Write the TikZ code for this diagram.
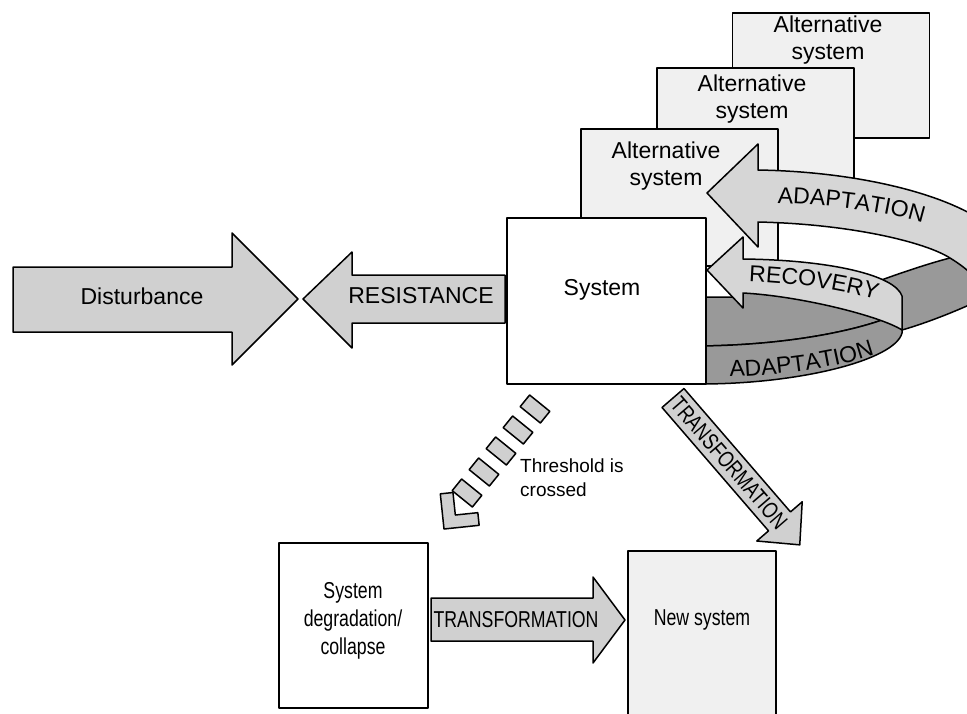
\documentclass[tikz,border=0pt]{standalone}
\usepackage{fontspec}
\setmainfont{Liberation Sans}
\usetikzlibrary{decorations.text}

\definecolor{arrowgray}{RGB}{208,208,208}
\definecolor{bandgray}{RGB}{214,214,214}
\definecolor{darkgray}{RGB}{153,153,153}
\definecolor{boxgray}{RGB}{240,240,240}
\newcommand{\lblfont}{\fontsize{23}{27}\selectfont}
\newcommand{\narrowfont}{\fontsize{23}{28}\selectfont}
\newcommand{\notefont}{\fontsize{19}{24}\selectfont}

\begin{document}
\begin{tikzpicture}[x=1pt, y=-1pt, line join=round,
    box/.style={draw, line width=1.8pt, fill=white, inner sep=0pt},
    altbox/.style={box, fill=boxgray, minimum width=197pt},
    blockarrow/.style={draw, line width=1.5pt, fill=arrowgray},
    band/.style={draw, line width=1.5pt, fill=bandgray},
    darkband/.style={draw, line width=1.5pt, fill=darkgray},
    dashbox/.style={draw, line width=1.5pt, fill=arrowgray, minimum width=26pt, minimum height=15pt, inner sep=0pt},
    lbl/.style={font=\lblfont, align=center, inner sep=0pt},
    narrowlbl/.style={font=\narrowfont, align=center, inner sep=0pt, xscale=0.77}]
    \useasboundingbox (0,0) rectangle (967,713);
    \clip (0,0) rectangle (967,713);

    % alternative systems, back to front
    \node[altbox, minimum height=125pt] at (831,75.5) (alt3) {};
    \node[altbox, minimum height=132pt] at (755.5,134) (alt2) {};
    \node[altbox, minimum height=137pt] at (679.5,197.5) (alt1) {};
    \node[lbl] at (828,40) (alt3txt) {Alternative\\system};
    \node[lbl] at (752,99) (alt2txt) {Alternative\\system};
    \node[lbl] at (666,166) (alt1txt) {Alternative\\system};

    % outer loop (back part)
    \draw[darkband] (850,292) .. controls (890,276) and (930,263) .. (950,258) -- (1010,240) -- (1000,290)
        .. controls (970,306) and (930,322) .. (902,330) -- cycle;
    % inner loop
    \draw[darkband] (700,297) -- (738,297) -- (745,288) .. controls (830,292) and (880,305) .. (902,325)
        -- (895,315) .. controls (860,330) and (790,345) .. (700,346) -- cycle;
    \draw[darkband] (700,346) .. controls (790,345) and (860,330) .. (895,315) -- (902,330) -- (902,333)
        .. controls (895,360) and (800,384) .. (700,384) -- cycle;
    \draw[band] (707,270) -- (743,237) -- (743,259) .. controls (830,260) and (895,275) .. (902,296) -- (902,330)
        .. controls (880,316) and (800,296) .. (743,293) -- (743,308) -- cycle;
    \draw[band] (707,193) -- (758,144) -- (758,170) .. controls (880,172) and (990,205) .. (1010,250) -- (1000,300)
        -- (990,295) .. controls (980,280) and (965,267) .. (950,258) .. controls (925,242) and (850,224) .. (758,222)
        -- (758,247) -- cycle;

    \path[decorate, decoration={text along path, text={|\lblfont|ADAPTATION}, text align=center}]
        (768,203) .. controls (830,204) and (890,212) .. (932,226);
    \path[decorate, decoration={text along path, text={|\lblfont|RECOVERY}, text align=center}]
        (743,281) .. controls (800,283) and (850,291) .. (882,302);
    \path[decorate, decoration={text along path, text={|\lblfont|ADAPTATION}, text align=center}]
        (722,377) .. controls (780,376) and (840,368) .. (882,352);

    % system
    \node[box, minimum width=199pt, minimum height=166pt] at (606.5,301) (sys) {};
    \node[lbl] at (602,290) (systxt) {System};

    % disturbance and resistance
    \draw[blockarrow] (13,267) -- (232,267) -- (232,233) -- (298,299) -- (232,365) -- (232,332) -- (13,332) -- cycle;
    \node[lbl] at (142,296) (dist) {Disturbance};
    \draw[blockarrow] (303,299) -- (352,252) -- (352,275) -- (505,275) -- (505,323) -- (352,323) -- (352,348) -- cycle;
    \node[lbl] at (421,296) (resist) {RESISTANCE};

    % threshold
    \foreach \i in {0,...,4}
        \node[dashbox, rotate=-39] at ({535-17*\i},{409+21*\i}) (dash\i) {};
    \draw[blockarrow, shift={(444,529)}, rotate=-129] (0pt,0pt) -- (-25pt,25pt) -- (-34pt,16pt) -- (-18pt,0pt)
        -- (-34pt,-16pt) -- (-25pt,-25pt) -- cycle;
    \node[font=\notefont, align=left, anchor=west, inner sep=0pt] at (520,478) (thresh) {Threshold is\\crossed};

    % transformation
    \begin{scope}[shift={(673,398)}, rotate=-49.2]
        \draw[blockarrow] (0pt,-14.5pt) -- (163pt,-14.5pt) -- (163pt,-30pt) -- (194pt,0pt) -- (163pt,30pt)
            -- (163pt,14.5pt) -- (0pt,14.5pt) -- cycle;
        \node[rotate=-49.2, narrowlbl] at (86pt,0pt) (trans1) {TRANSFORMATION};
    \end{scope}

    \node[box, minimum width=149pt, minimum height=165pt] at (353.5,625.5) (collapse) {};
    \node[narrowlbl] at (353,621) (collapsetxt) {System\\degradation/\\collapse};
    \node[box, fill=boxgray, minimum width=148pt, minimum height=190pt] at (702,646) (newsys) {};
    \node[narrowlbl] at (702,620) (newsystxt) {New system};

    \draw[blockarrow] (431,598) -- (593,598) -- (593,577) -- (625,620) -- (593,663) -- (593,641) -- (431,641) -- cycle;
    \node[narrowlbl] at (516,620) (trans2) {TRANSFORMATION};
\end{tikzpicture}
\end{document}
